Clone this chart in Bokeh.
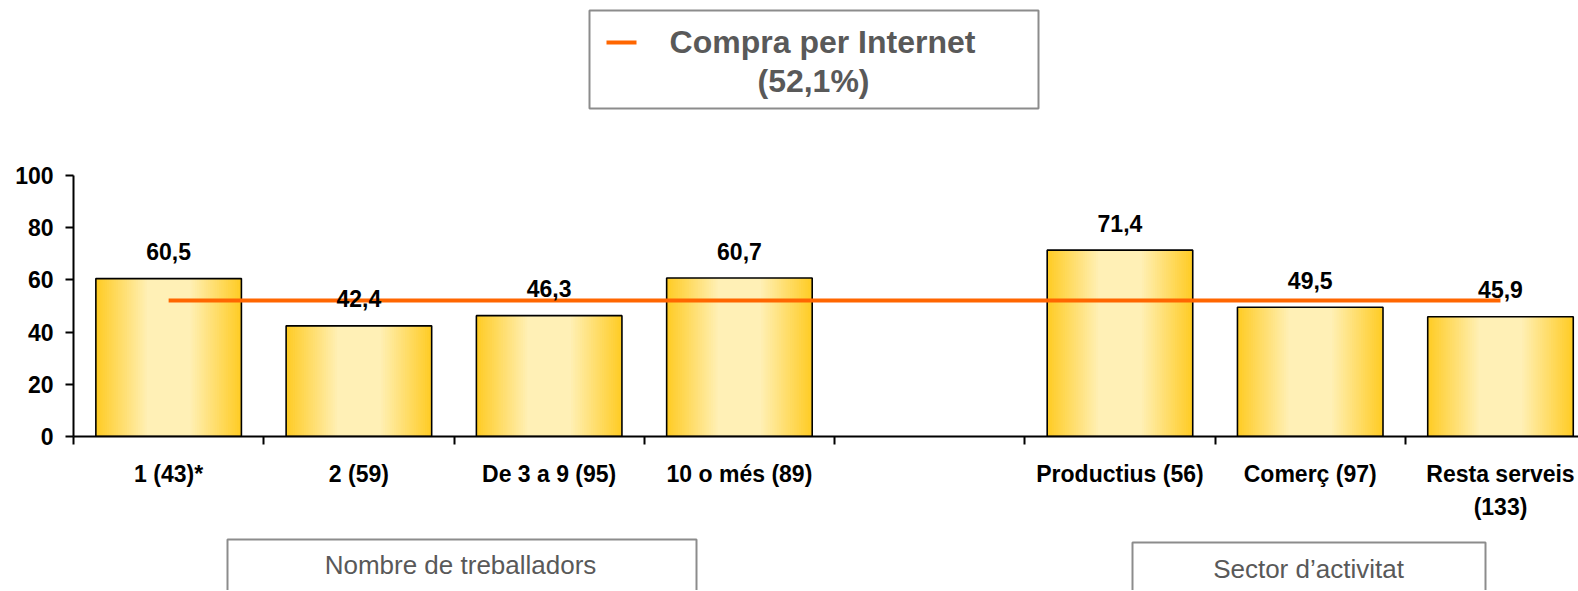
from bokeh.plotting import figure
from bokeh.models import Range1d, FixedTicker
from bokeh.layouts import column
from bokeh.embed import file_html
from bokeh.resources import INLINE
from bokeh.core.properties import value

# ---------------- data ----------------
categories = ["1 (43)*", "2 (59)", "De 3 a 9 (95)", "10 o més (89)", "",
              "Productius (56)", "Comerç (97)", "Resta serveis\n(133)"]
values = [60.5, 42.4, 46.3, 60.7, None, 71.4, 49.5, 45.9]
average = 52.1
series_name = "Compra per Internet"
group_labels = ["Nombre de treballadors", "Sector d’activitat"]
y_ticks = [0, 20, 40, 60, 80, 100]

FONT = "Liberation Sans"
GREY_TXT = "#595959"
BOX_COL = "#8c8c8c"
W = 1578
LEFT = 73  # frame left border (px)


def fmt(v):
    return f"{v:.1f}".replace(".", ",")


def blank(fig):
    fig.min_border_left = LEFT
    fig.min_border_right = 0
    fig.min_border_top = 0
    fig.min_border_bottom = 0
    fig.outline_line_color = None
    fig.background_fill_color = "white"
    fig.border_fill_color = "white"
    fig.grid.visible = False
    return fig


# ---------------- top legend ----------------
pt = figure(width=W, height=140, x_range=Range1d(LEFT, W), y_range=Range1d(140, 0),
            x_axis_type=None, y_axis_type=None, output_backend="svg",
            toolbar_location=None, title=None)
blank(pt)
pt.quad(left=[589], right=[1038], top=[10], bottom=[108], fill_color="white",
        line_color=BOX_COL, line_width=2)
pt.segment(x0=[606], x1=[636], y0=[42], y1=[42], line_color="#FF6600", line_width=4)
pt.text(x=[822, 813], y=[41, 80], text=[series_name, f"({fmt(average)}%)"],
        text_font=value(FONT), text_font_style="bold", text_font_size="32px",
        text_color=GREY_TXT, text_align="center", text_baseline="middle")

# ---------------- main chart ----------------
n = len(categories)
centers = [i + 0.5 for i in range(n)]
bx = [c for c, v in zip(centers, values) if v is not None]
bv = [v for v in values if v is not None]

p = figure(width=W, height=390, x_range=Range1d(0, 7.91), y_range=Range1d(0, 100),
           output_backend="svg", toolbar_location=None, title=None,
           min_border_left=LEFT, min_border_right=0, min_border_top=35,
           min_border_bottom=94)
p.outline_line_color = None
p.grid.visible = False

# gradient-like bars (nested vbars)
edge = (255, 204, 38)
mid = (255, 240, 182)
N = 24
bar_w = 0.765
for k in range(N):
    t = k / (N - 1)
    frac = 1.0 - t * 0.70
    col = tuple(int(round(edge[j] + (mid[j] - edge[j]) * t)) for j in range(3))
    p.vbar(x=bx, top=bv, bottom=0, width=bar_w * frac,
           fill_color="#%02x%02x%02x" % col, line_color=None)
p.vbar(x=bx, top=bv, bottom=0, width=bar_w, fill_color=None,
       line_color="black", line_width=1.6)

# average line
p.line(x=[centers[0], centers[-1]], y=[average, average], line_color="#FF6600",
       line_width=4)

# value labels
p.text(x=bx, y=bv, text=[fmt(v) for v in bv], y_offset=-27,
       text_font=value(FONT), text_font_style="bold", text_font_size="23px",
       text_color="black", text_align="center", text_baseline="middle")

# axes
xa = p.xaxis[0]
xa.ticker = FixedTicker(ticks=[c for c, cat in zip(centers, categories) if cat],
                        minor_ticks=list(range(n + 1)))
xa.major_label_overrides = {c: cat for c, cat in zip(centers, categories) if cat}
xa.major_tick_out = 0
xa.major_tick_in = 0
xa.minor_tick_out = 8
xa.minor_tick_in = 0
xa.minor_tick_line_color = "black"
xa.minor_tick_line_width = 2
xa.axis_line_width = 2
xa.axis_line_color = "black"
xa.major_label_standoff = 16
xa.major_label_text_font = FONT
xa.major_label_text_font_style = "bold"
xa.major_label_text_font_size = "23px"
xa.major_label_text_color = "black"
xa.major_label_text_line_height = 1.3

ya = p.yaxis[0]
ya.ticker = FixedTicker(ticks=y_ticks, minor_ticks=[])
ya.major_tick_out = 8
ya.major_tick_in = 0
ya.major_tick_line_width = 2
ya.major_tick_line_color = "black"
ya.axis_line_width = 2
ya.axis_line_color = "black"
ya.major_label_standoff = 12
ya.major_label_text_font = FONT
ya.major_label_text_font_style = "bold"
ya.major_label_text_font_size = "23px"
ya.major_label_text_color = "black"

# ---------------- bottom group boxes ----------------
pb = figure(width=W, height=60, x_range=Range1d(LEFT, W), y_range=Range1d(590, 530),
            x_axis_type=None, y_axis_type=None, output_backend="svg",
            toolbar_location=None, title=None)
blank(pb)
pb.quad(left=[227, 1132], right=[696, 1485], top=[539, 542], bottom=[610, 610],
        fill_color="white", line_color=BOX_COL, line_width=2)
pb.text(x=[460, 1308], y=[564, 568], text=group_labels,
        text_font=value(FONT), text_font_size="26px", text_color=GREY_TXT,
        text_align="center", text_baseline="middle")

layout = column(pt, p, pb, spacing=0)
open("out.html", "w").write(file_html(layout, INLINE))
